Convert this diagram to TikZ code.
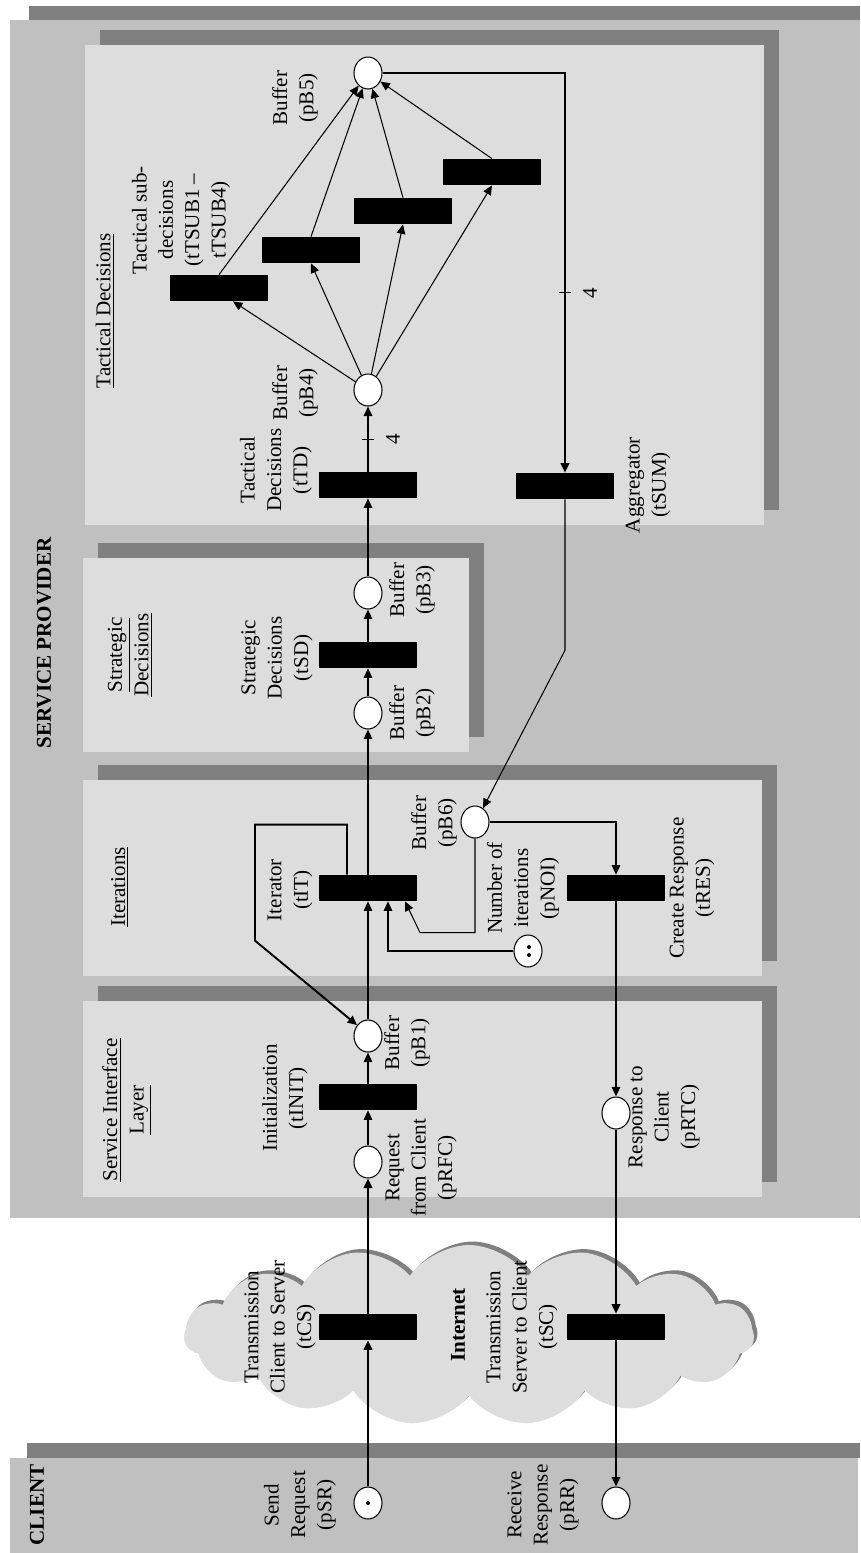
\documentclass[tikz,border=0pt]{standalone}
\usepackage{fontspec}
\setmainfont{Liberation Serif}
\usepackage{tikz}
\usetikzlibrary{shapes.geometric,shapes.symbols,arrows.meta,calc,shadows}
\definecolor{layergray}{RGB}{192,192,192}
\definecolor{shadegray}{RGB}{128,128,128}
\definecolor{panelgray}{RGB}{221,221,221}

\begin{document}
\begin{tikzpicture}[x=0.02cm, y=-0.02cm,
    place/.style={ellipse, draw, fill=white, line width=0.6pt,
        minimum width=0.56cm, minimum height=0.64cm, inner sep=0pt},
    trans/.style={rectangle, fill=black, minimum width=1.96cm,
        minimum height=0.52cm, inner sep=0pt},
    token/.style={circle, fill=black, inner sep=0pt, minimum size=0.08cm},
    lbl/.style={rotate=90, align=center, inner sep=0pt,
        font=\fontsize{12}{15}\selectfont},
    weight/.style={lbl},
    flow/.style={-{Triangle[length=1.9mm,width=1.7mm]}, line width=0.6pt},
    flowbold/.style={flow, line width=1.1pt}
]
    \fill[white] (0,0) rectangle (860,1553);
    \useasboundingbox (0,0) rectangle (860,1553);

    % Layers
    \fill[shadegray] (29,6) rectangle (860,20);
    \fill[layergray] (10,20) rectangle (860,1218);
    \fill[shadegray] (27,1443) rectangle (860,1458);
    \fill[layergray] (10,1458) rectangle (858,1553);
    \foreach \xa/\ya/\xb/\yb in {85/45/764/525, 83/558/469/752,
                                 83/780/762/976, 83/1001/762/1197} {
        \fill[shadegray] (\xa+15,\ya-15) rectangle (\xb+15,\yb-15);
        \fill[panelgray] (\xa,\ya) rectangle (\xb,\yb);
    }

    % Internet cloud
    \node[cloud, cloud puffs=15, cloud puff arc=110, aspect=3.1,
          minimum width=11.4cm, minimum height=3.6cm, fill=panelgray,
          general shadow={fill=shadegray, shadow xshift=0.07cm, shadow yshift=0.07cm}]
          (inet) at (469,1335) {};

    % Places and transitions
    \node[place] (pSR) at (368,1503) {};
    \node[place] (pRR) at (616,1503) {};
    \node[trans] (tCS) at (368,1327) {};
    \node[trans] (tSC) at (616,1327) {};
    \node[place] (pRFC) at (368,1162) {};
    \node[trans] (tINIT) at (368,1097) {};
    \node[place] (pB1) at (368,1036) {};
    \node[trans] (tIT) at (368,888) {};
    \node[place] (pB6) at (475,822) {};
    \node[place] (pNOI) at (528,951) {};
    \node[trans] (tRES) at (616,888) {};
    \node[place] (pRTC) at (616,1113) {};
    \node[place] (pB2) at (368,713) {};
    \node[trans] (tSD) at (368,655) {};
    \node[place] (pB3) at (368,593) {};
    \node[trans] (tTD) at (368,485) {};
    \node[place] (pB4) at (368,390) {};
    \node[trans] (tSUB1) at (219,288) {};
    \node[trans] (tSUB2) at (311,250) {};
    \node[trans] (tSUB3) at (403,211) {};
    \node[trans] (tSUB4) at (492,172) {};
    \node[place] (pB5) at (368,73) {};
    \node[trans] (tSUM) at (565,486) {};

    % Tokens
    \node[token] at (pSR) {};
    \node[token] at ($(pNOI)+(1,-4)$) {};
    \node[token] at ($(pNOI)+(1,4)$) {};

    % Arcs
    \draw[flowbold] (pSR) -- (tCS);
    \draw[flowbold] (tCS) -- (pRFC);
    \draw[flow] (pRFC) -- (tINIT);
    \draw[flow] (tINIT) -- (pB1);
    \draw[flow] (pB1) -- (tIT);
    \draw[flow] (tIT) -- (pB2);
    \draw[flow] (pB2) -- (tSD);
    \draw[flow] (tSD) -- (pB3);
    \draw[flow] (pB3) -- (tTD);
    \draw[flowbold] (tTD) -- (pB4);
    \draw[flow] (pB4) -- ($(tSUB1.south)+(14,0)$);
    \foreach \i in {2,...,4} {
        \draw[flow] (pB4) -- (tSUB\i.south);
    }
    \foreach \i in {1,...,4} {
        \draw[flow] (tSUB\i.north) -- (pB5);
    }
    \draw[flowbold] (pB5.east) -| (tSUM.north);
    \draw[flow] (tSUM.south) -- ++(0,151) -- (pB6.60);
    \draw[flow] (pB6.east) -| (tRES.north);
    \draw[flow] (tRES) -- (pRTC);
    \draw[flowbold] (pRTC) -- (tSC);
    \draw[flowbold] (tSC) -- (pRR);
    \draw[flowbold] ($(tIT.north)+(-21,0)$) -- ++(0,-50) -| ++(-92,116) -- (pB1.135);
    \draw[flow] (pB6.south) -- ++(0,94) -- ++(-55,0) -- ($(tIT.south)+(37,0)$);
    \draw[flow] (pNOI.west) -| ($(tIT.south)+(20,0)$);

    % Arc weights
    \coordinate (m1) at ($(tTD.north)!0.5!(pB4.south)$);
    \coordinate (m2) at ($(pB5.east -| tSUM.north)!0.55!(tSUM.north)$);
    \draw[line width=0.6pt] ($(m1)+(-6,0)$) -- ($(m1)+(6,0)$);
    \draw[line width=0.6pt] ($(m2)+(-6,0)$) -- ($(m2)+(6,0)$);
    \node[weight] (w1) at ($(m1)+(25,0)$) {4};
    \node[weight] (w2) at ($(m2)+(25,0)$) {4};

    % Layer titles
    \node[lbl, font=\fontsize{12}{15}\selectfont\bfseries] (client) at (37,1505) {CLIENT};
    \node[lbl, font=\fontsize{12}{15}\selectfont\bfseries] (provider) at (44,643) {SERVICE PROVIDER};
    \node[lbl, font=\fontsize{12}{15}\selectfont\bfseries] (internet) at (458,1325) {Internet};
    \node[lbl] (silayer) at (127,1110) {\underline{Service Interface}\\\underline{Layer}};
    \node[lbl] (itlayer) at (120,887) {\underline{Iterations}};
    \node[lbl] (sdlayer) at (130,655) {\underline{Strategic}\\\underline{Decisions}};
    \node[lbl] (tdlayer) at (105,311) {\underline{Tactical Decisions}};

    % Element labels
    \node[lbl] (lpSR) at (300,1505) {Send\\Request\\(pSR)};
    \node[lbl] (lpRR) at (543,1505) {Receive\\Response\\(pRR)};
    \node[lbl] (ltCS) at (280,1327) {Transmission\\Client to Server\\(tCS)};
    \node[lbl] (ltSC) at (522,1327) {Transmission\\Server to Client\\(tSC)};
    \node[lbl] (lpRFC) at (421,1168) {Request\\from Client\\(pRFC)};
    \node[lbl] (ltINIT) at (285,1098) {Initialization\\(tINIT)};
    \node[lbl] (lpB1) at (407,1043) {Buffer\\(pB1)};
    \node[lbl] (ltIT) at (290,890) {Iterator\\(tIT)};
    \node[lbl] (lpB6) at (434,823) {Buffer\\(pB6)};
    \node[lbl] (lpNOI) at (523,888) {Number of\\iterations\\(pNOI)};
    \node[lbl] (ltRES) at (692,888) {Create Response\\(tRES)};
    \node[lbl] (lpRTC) at (664,1117) {Response to\\Client\\(pRTC)};
    \node[lbl] (lpB2) at (412,713) {Buffer\\(pB2)};
    \node[lbl] (ltSD) at (277,658) {Strategic\\Decisions\\(tSD)};
    \node[lbl] (lpB3) at (412,590) {Buffer\\(pB3)};
    \node[lbl] (ltTD) at (276,470) {Tactical\\Decisions\\(tTD)};
    \node[lbl] (lpB4) at (295,393) {Buffer\\(pB4)};
    \node[lbl] (ltSUB) at (181,220) {Tactical sub-\\decisions\\(tTSUB1 --\\tTSUB4)};
    \node[lbl] (lpB5) at (295,98) {Buffer\\(pB5)};
    \node[lbl] (ltSUM) at (648,485) {Aggregator\\(tSUM)};
\end{tikzpicture}
\end{document}
